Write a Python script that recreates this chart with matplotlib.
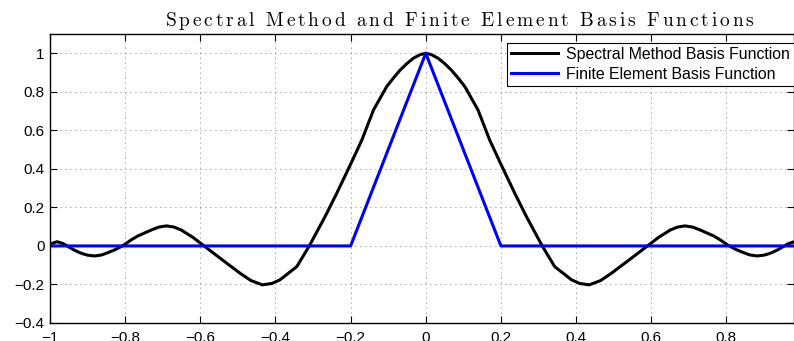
import matplotlib
matplotlib.use("Agg")
import matplotlib.pyplot as plt

plt.rcParams['font.family'] = ['Liberation Sans', 'DejaVu Sans']
plt.rcParams['mathtext.fontset'] = 'cm'

# spectral (global) basis function
spec_x = [-1.00, -0.981, -0.965, -0.952, -0.935, -0.917, -0.90, -0.881, -0.863, -0.846,
          -0.825, -0.803, -0.785, -0.766, -0.73, -0.71, -0.69, -0.67,
          -0.651, -0.62, -0.59, -0.547, -0.494, -0.465, -0.435, -0.41, -0.388, -0.343,
          -0.31, -0.268, -0.237, -0.201, -0.17, -0.139, -0.104, -0.085, -0.068, -0.05,
          -0.033, -0.015, 0.0,
          0.015, 0.033, 0.05, 0.068, 0.085, 0.104, 0.139, 0.17, 0.201, 0.237, 0.268,
          0.31, 0.343, 0.388, 0.41, 0.435, 0.465, 0.494, 0.547, 0.59, 0.62, 0.651,
          0.67, 0.69, 0.71, 0.73, 0.766, 0.785, 0.803, 0.825, 0.846, 0.863, 0.881,
          0.90, 0.917, 0.935, 0.952, 0.965, 0.981, 1.00]
spec_y = [0.010, 0.022, 0.012, -0.003, -0.022, -0.038, -0.048, -0.052, -0.047, -0.035,
          -0.018, 0.005, 0.030, 0.052, 0.083, 0.098, 0.104, 0.098,
          0.083, 0.045, 0.000, -0.064, -0.142, -0.180, -0.202, -0.195, -0.176, -0.107,
          0.000, 0.152, 0.273, 0.420, 0.550, 0.706, 0.827, 0.874, 0.913, 0.947,
          0.974, 0.993, 1.000,
          0.993, 0.974, 0.947, 0.913, 0.874, 0.827, 0.706, 0.550, 0.420, 0.273, 0.152,
          0.000, -0.107, -0.176, -0.195, -0.202, -0.180, -0.142, -0.064, 0.000, 0.045, 0.083,
          0.098, 0.104, 0.098, 0.083, 0.052, 0.030, 0.005, -0.018, -0.035, -0.047, -0.052,
          -0.048, -0.038, -0.022, -0.003, 0.012, 0.022, 0.010]

# finite element hat function
fe_x = [-1.0, -0.2, 0.0, 0.2, 1.0]
fe_y = [0.0, 0.0, 1.0, 0.0, 0.0]

labels = ['Spectral Method Basis Function', 'Finite Element Basis Function']
title = 'Spectral Method and Finite Element Basis Functions'

fig = plt.figure(figsize=(7.94, 3.41), dpi=100)
ax = fig.add_axes([50 / 794, 18 / 341, 744 / 794, 289 / 341])

ax.plot(spec_x, spec_y, color='black', lw=2.2, label=labels[0],
        solid_joinstyle='round')
ax.plot(fe_x, fe_y, color='blue', lw=2.2, label=labels[1])

ax.set_xlim(-1, 0.98)
ax.set_ylim(-0.4, 1.1)
ax.set_xticks([-1, -0.8, -0.6, -0.4, -0.2, 0, 0.2, 0.4, 0.6, 0.8])
ax.set_yticks([-0.4, -0.2, 0, 0.2, 0.4, 0.6, 0.8, 1])
ax.set_xticklabels(['\u22121', '\u22120.8', '\u22120.6', '\u22120.4', '\u22120.2',
                    '0', '0.2', '0.4', '0.6', '0.8'])
ax.set_yticklabels(['\u22120.4', '\u22120.2', '0', '0.2', '0.4', '0.6', '0.8', '1'])
ax.tick_params(direction='in', top=True, right=True, length=5, width=0.8,
               labelsize=11)
ax.tick_params(axis='x', pad=6)
ax.tick_params(axis='y', pad=4)
ax.grid(True, color='#555555', linestyle=(0, (1, 5)), linewidth=0.6)
for s in ax.spines.values():
    s.set_linewidth(1.0)

leg = ax.legend(loc='upper right', bbox_to_anchor=(1.0, 1 - 9 / 289),
                borderaxespad=0, fontsize=11.4, fancybox=False, framealpha=1,
                edgecolor='black', handlelength=3.0, borderpad=0.25,
                labelspacing=0.3, handletextpad=0.5)
leg.get_frame().set_linewidth(0.8)

spaced = r'\,'.join(r'\ ' if c == ' ' else c for c in title)
fig.text(460 / 794, 1 - 26 / 341, r'$\mathrm{' + spaced + '}$', ha='center',
         va='baseline', fontsize=14)

fig.savefig('out.png', dpi=100)
